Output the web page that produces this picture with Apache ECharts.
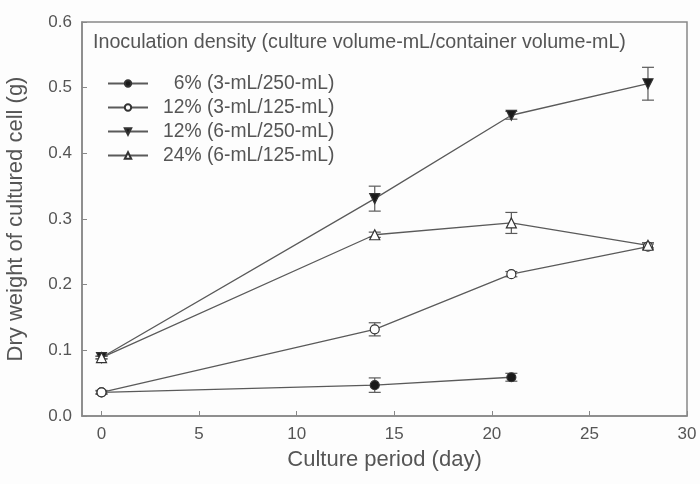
<!DOCTYPE html>
<html>
<head>
<meta charset="utf-8">
<script src="https://cdn.jsdelivr.net/npm/echarts@6/dist/echarts.min.js"></script>
<style>
  html, body { margin: 0; padding: 0; background: #fdfdfd; }
  #chart { width: 700px; height: 484px; }
</style>
</head>
<body>
<div id="chart"></div>
<script>
// days of culture
const days = [0, 14, 21, 28];
const xTicks = [0, 5, 10, 15, 20, 25, 30];

const seriesNames = [
    '6% (3-mL/250-mL)',
    '12% (3-mL/125-mL)',
    '12% (6-mL/250-mL)',
    '24% (6-mL/125-mL)'
];

// dry weight (g)
const dens6 = [0.036, 0.047, 0.059];
const dens12a = [0.036, 0.132, 0.216, 0.258];
const dens12b = [0.089, 0.331, 0.458, 0.506];
const dens24 = [0.089, 0.276, 0.294, 0.260];

// error (+/-)
const err6 = [0.003, 0.011, 0.006];
const err12a = [0.002, 0.010, 0.004, 0.004];
const err12b = [0.002, 0.019, 0.006, 0.025];
const err24 = [0.002, 0.004, 0.016, 0.004];

const lineColor = '#5a5a5a';
const textColor = '#555';
const frameColor = '#888';

const chart = echarts.init(document.getElementById('chart'));

function pairs(vals) {
    return vals.map(function (v, i) { return [days[i], v]; });
}
function errData(vals, errs) {
    return vals.map(function (v, i) { return [days[i], v, errs[i]]; });
}

function errorSeries(vals, errs) {
    return {
        type: 'custom',
        data: errData(vals, errs),
        z: 1,
        silent: true,
        renderItem: function (params, api) {
            const x = api.value(0), y = api.value(1), e = api.value(2);
            const top = api.coord([x, y + e]);
            const bot = api.coord([x, y - e]);
            const w = 6;
            const st = { stroke: lineColor, lineWidth: 1.2 };
            return {
                type: 'group',
                children: [
                    { type: 'line', shape: { x1: top[0], y1: top[1], x2: bot[0], y2: bot[1] }, style: st },
                    { type: 'line', shape: { x1: top[0] - w, y1: top[1], x2: top[0] + w, y2: top[1] }, style: st },
                    { type: 'line', shape: { x1: bot[0] - w, y1: bot[1], x2: bot[0] + w, y2: bot[1] }, style: st }
                ]
            };
        }
    };
}

function lineSeries(name, vals, symbol, filled, rotate) {
    return {
        name: name,
        type: 'line',
        data: pairs(vals),
        z: 3,
        symbol: symbol,
        symbolSize: symbol === 'triangle' ? 10 : 9,
        symbolRotate: rotate || 0,
        showAllSymbol: true,
        lineStyle: { color: lineColor, width: 1.3 },
        itemStyle: {
            color: filled ? '#1a1a1a' : '#fff',
            borderColor: '#333',
            borderWidth: 1.2
        },
        emphasis: { disabled: true }
    };
}

const option = {
    backgroundColor: '#fdfdfd',
    animation: false,
    textStyle: { fontFamily: 'Liberation Sans, Arial, sans-serif' },
    title: {
        text: 'Inoculation density (culture volume-mL/container volume-mL)',
        left: 93,
        top: 33,
        padding: 0,
        textStyle: { color: textColor, fontSize: 19.7, fontWeight: 'normal' }
    },
    legend: {
        orient: 'vertical',
        left: 107,
        top: 74,
        padding: 0,
        itemWidth: 40,
        itemHeight: 8,
        itemGap: 5,
        data: seriesNames,
        formatter: function (name) {
            return name.indexOf('6%') === 0 ? '  ' + name : name;
        },
        textStyle: { color: textColor, fontSize: 19.3, padding: [0, 0, 0, 10] }
    },
    grid: {
        left: 82,
        right: 13,
        top: 22,
        bottom: 68,
        outerBoundsMode: 'none',
        show: true,
        borderColor: frameColor,
        borderWidth: 1.5,
        backgroundColor: 'transparent'
    },
    xAxis: {
        type: 'value',
        min: -1,
        max: 30,
        name: 'Culture period (day)',
        nameLocation: 'middle',
        nameGap: 33,
        nameTextStyle: { color: textColor, fontSize: 22 },
        axisLine: { show: true, onZero: false, lineStyle: { color: frameColor, width: 1.5 } },
        axisTick: { inside: true, length: 5, customValues: xTicks, lineStyle: { color: frameColor } },
        axisLabel: { customValues: xTicks, color: textColor, fontSize: 17, margin: 10 },
        splitLine: { show: false }
    },
    yAxis: {
        type: 'value',
        min: 0,
        max: 0.6,
        interval: 0.1,
        name: 'Dry weight of cultured cell (g)',
        nameLocation: 'middle',
        nameGap: 55,
        nameTextStyle: { color: textColor, fontSize: 22 },
        axisLine: { show: true, onZero: false, lineStyle: { color: frameColor, width: 1.5 } },
        axisTick: { inside: true, length: 5, lineStyle: { color: frameColor } },
        axisLabel: {
            color: textColor,
            fontSize: 17,
            margin: 10,
            formatter: function (v) { return v.toFixed(1); }
        },
        splitLine: { show: false }
    },
    series: [
        errorSeries(dens6, err6),
        errorSeries(dens12a, err12a),
        errorSeries(dens12b, err12b),
        errorSeries(dens24, err24),
        lineSeries(seriesNames[0], dens6, 'circle', true),
        lineSeries(seriesNames[1], dens12a, 'circle', false),
        lineSeries(seriesNames[2], dens12b, 'triangle', true, 180),
        lineSeries(seriesNames[3], dens24, 'triangle', false)
    ]
};

chart.setOption(option);
</script>
</body>
</html>
